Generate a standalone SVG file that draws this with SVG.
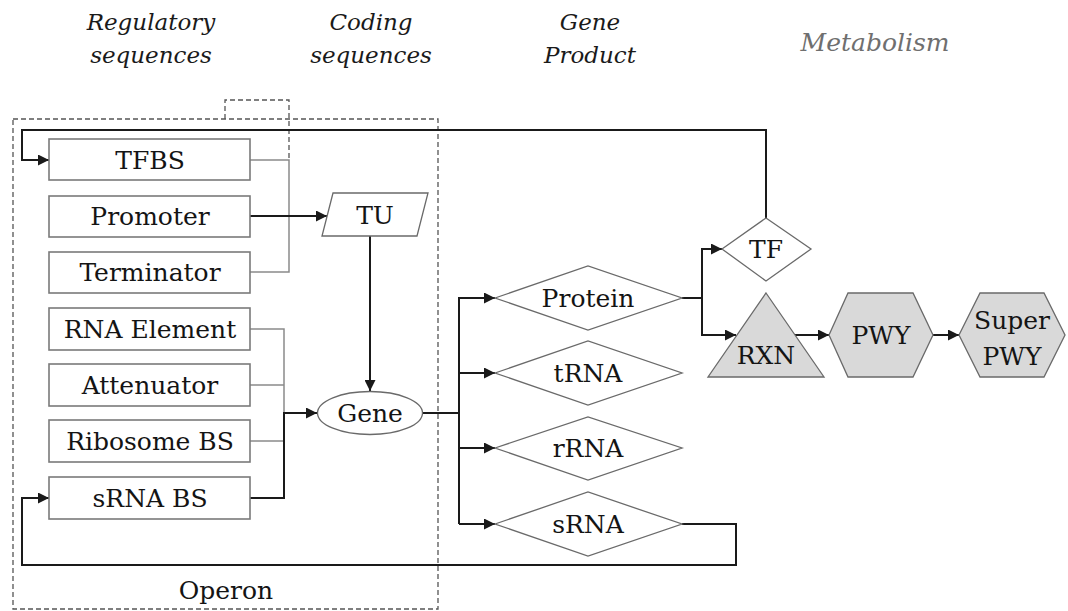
<svg xmlns="http://www.w3.org/2000/svg" width="1068" height="611" viewBox="0 0 1068 611">
  <style>
    .hdr { font-family: "DejaVu Serif", "Liberation Serif", serif; font-style: italic; font-size: 23px; fill: #1a1a1a; text-anchor: middle; }
    .hdr-muted { fill: #6f6f6f; font-size: 25px; }
    .lbl { font-family: "DejaVu Serif", "Liberation Serif", serif; font-size: 25px; fill: #141414; text-anchor: middle; dominant-baseline: central; }
    .box { fill: #ffffff; stroke: #7a7a7a; stroke-width: 1.6; }
    .shape { fill: #ffffff; stroke: #6a6a6a; stroke-width: 1.3; }
    .metab { fill: #d9d9d9; stroke: #6a6a6a; stroke-width: 1.3; }
    .link { fill: none; stroke: #1a1a1a; stroke-width: 2; }
    .join { fill: none; stroke: #8a8a8a; stroke-width: 1.5; }
    .frame { fill: none; stroke: #555555; stroke-width: 1.3; stroke-dasharray: 5 3; }
  </style>
  <defs>
    <marker id="arrow" viewBox="0 0 10 10" refX="10" refY="5" markerWidth="5.5" markerHeight="5.5" orient="auto" markerUnits="strokeWidth">
      <path d="M0,0 L10,5 L0,10 Z" fill="#1a1a1a"/>
    </marker>
  </defs>

  <!-- column headings -->
  <g id="headings">
    <text class="hdr" x="151" y="30">Regulatory</text>
    <text class="hdr" x="151" y="63">sequences</text>
    <text class="hdr" x="371" y="30">Coding</text>
    <text class="hdr" x="371" y="63">sequences</text>
    <text class="hdr" x="590" y="30">Gene</text>
    <text class="hdr" x="590" y="63">Product</text>
    <text class="hdr hdr-muted" x="875" y="51">Metabolism</text>
  </g>

  <!-- operon frame with tab -->
  <g id="operon">
    <rect class="frame" x="13" y="119" width="425" height="490"/>
    <path class="frame" d="M225,119 V100 H289 V158"/>
    <text class="lbl" x="226" y="590">Operon</text>
  </g>

  <!-- connectors -->
  <g id="connectors">
    <!-- TFBS / Terminator bracket -->
    <path class="join" d="M250,160 H289 V272 H250"/>
    <!-- RNA element / attenuator / ribosome BS bracket -->
    <path class="join" d="M250,329 H284 V413"/>
    <path class="join" d="M250,385 H284"/>
    <path class="join" d="M250,441 H284"/>
    <!-- sRNA BS to gene -->
    <path class="link" d="M250,498 H284 V413 H317" marker-end="url(#arrow)"/>
    <!-- promoter to TU -->
    <path class="link" d="M250,216 H327" marker-end="url(#arrow)"/>
    <!-- TU to gene -->
    <path class="link" d="M370,236 V391" marker-end="url(#arrow)"/>
    <!-- gene to products -->
    <path class="link" d="M422,413 H459"/>
    <path class="link" d="M459,524 V298 H495" marker-end="url(#arrow)"/>
    <path class="link" d="M459,373 H495" marker-end="url(#arrow)"/>
    <path class="link" d="M459,448 H495" marker-end="url(#arrow)"/>
    <path class="link" d="M459,524 H495" marker-end="url(#arrow)"/>
    <!-- protein to TF / RXN -->
    <path class="link" d="M682,298 H702"/>
    <path class="link" d="M702,298 V249 H722" marker-end="url(#arrow)"/>
    <path class="link" d="M702,298 V335 H736" marker-end="url(#arrow)"/>
    <!-- TF feedback to TFBS -->
    <path class="link" d="M766,218 V130 H22 V160 H49" marker-end="url(#arrow)"/>
    <!-- sRNA feedback to sRNA BS -->
    <path class="link" d="M682,524 H736 V565 H22 V498 H49" marker-end="url(#arrow)"/>
    <!-- metabolism chain -->
    <path class="link" d="M795,335 H829" marker-end="url(#arrow)"/>
    <path class="link" d="M933,335 H959" marker-end="url(#arrow)"/>
  </g>

  <!-- regulatory sequences -->
  <g id="tfbs"><rect class="box" x="49" y="139" width="201" height="41"/><text class="lbl" x="150" y="160">TFBS</text></g>
  <g id="promoter"><rect class="box" x="49" y="196" width="201" height="41"/><text class="lbl" x="150" y="216">Promoter</text></g>
  <g id="terminator"><rect class="box" x="49" y="252" width="201" height="41"/><text class="lbl" x="150" y="272">Terminator</text></g>
  <g id="rna-element"><rect class="box" x="49" y="308" width="201" height="42"/><text class="lbl" x="150" y="329">RNA Element</text></g>
  <g id="attenuator"><rect class="box" x="49" y="364" width="201" height="42"/><text class="lbl" x="150" y="385">Attenuator</text></g>
  <g id="ribosome-bs"><rect class="box" x="49" y="420" width="201" height="42"/><text class="lbl" x="150" y="441">Ribosome BS</text></g>
  <g id="srna-bs"><rect class="box" x="49" y="477" width="201" height="42"/><text class="lbl" x="150" y="498">sRNA BS</text></g>

  <!-- coding sequences -->
  <g id="tu"><polygon class="shape" points="333,193 428,193 417,236 322,236"/><text class="lbl" x="375" y="215">TU</text></g>
  <g id="gene"><ellipse class="shape" cx="370" cy="413" rx="52.5" ry="21.5"/><text class="lbl" x="370" y="413">Gene</text></g>

  <!-- gene products -->
  <g id="protein"><polygon class="shape" points="495,298 588,266 682,298 588,330"/><text class="lbl" x="588" y="298">Protein</text></g>
  <g id="trna"><polygon class="shape" points="495,373 588,341 682,373 588,405"/><text class="lbl" x="588" y="373">tRNA</text></g>
  <g id="rrna"><polygon class="shape" points="495,448 588,417 682,448 588,480"/><text class="lbl" x="588" y="448">rRNA</text></g>
  <g id="srna"><polygon class="shape" points="495,524 588,492 682,524 588,556"/><text class="lbl" x="588" y="524">sRNA</text></g>
  <g id="tf"><polygon class="shape" points="722,249 766,218 811,249 766,281"/><text class="lbl" x="766" y="249">TF</text></g>

  <!-- metabolism -->
  <g id="rxn"><polygon class="metab" points="766,293 824,377 708,377"/><text class="lbl" x="766" y="355">RXN</text></g>
  <g id="pwy"><polygon class="metab" points="829,335 848,293 913,293 933,335 913,377 848,377"/><text class="lbl" x="881" y="335">PWY</text></g>
  <g id="super-pwy"><polygon class="metab" points="959,335 980,293 1044,293 1065,335 1044,377 980,377"/>
    <text class="lbl" x="1012" y="320">Super</text><text class="lbl" x="1012" y="356">PWY</text></g>
</svg>
